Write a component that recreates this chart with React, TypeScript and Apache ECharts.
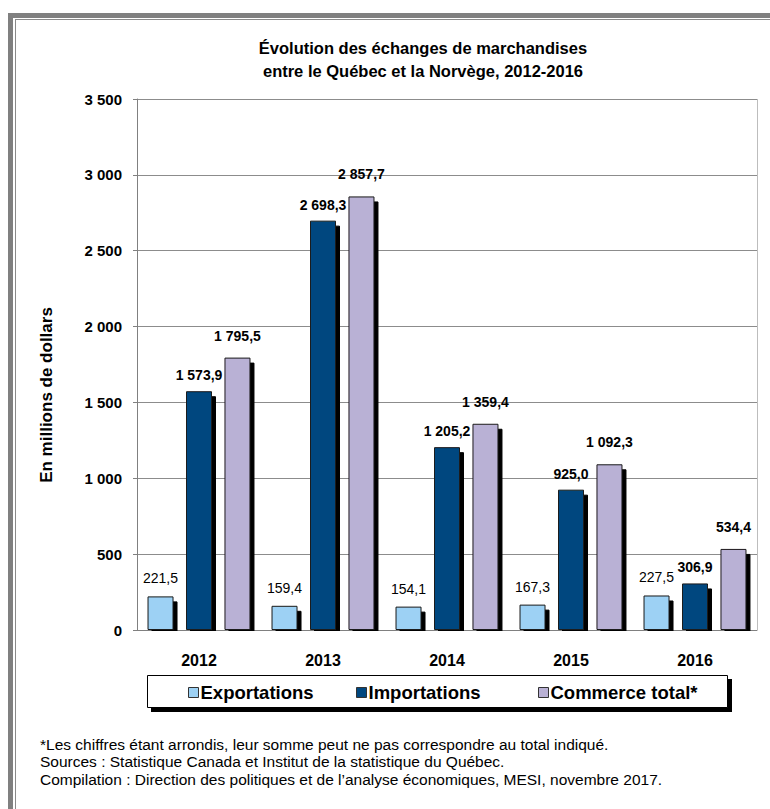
import React, { useEffect, useRef } from "react";
import * as echarts from "echarts";

const categories = ["2012", "2013", "2014", "2015", "2016"];
const exportations = [221.5, 159.4, 154.1, 167.3, 227.5];
const importations = [1573.9, 2698.3, 1205.2, 925.0, 306.9];
const commerceTotal = [1795.5, 2857.7, 1359.4, 1092.3, 534.4];
const seriesNames = ["Exportations", "Importations", "Commerce total*"];
const yMin = 0;
const yMax = 3500;
const yStep = 500;

const titleLines = [
  "Évolution des échanges de marchandises",
  "entre le Québec et la Norvège, 2012-2016",
];
const yAxisTitle = "En millions de dollars";
const notes = [
  "*Les chiffres étant arrondis, leur somme peut ne pas correspondre au total indiqué.",
  "Sources : Statistique Canada et Institut de la statistique du Québec.",
  "Compilation : Direction des politiques et de l’analyse économiques, MESI, novembre 2017.",
];

const FONT = "'Liberation Sans', Arial, Helvetica, sans-serif";

function fmt(v: number, dec: number): string {
  const s = v.toFixed(dec);
  const [ip, dp] = s.split(".");
  const withSpaces = ip.replace(/\B(?=(\d{3})+(?!\d))/g, " ");
  return dp !== undefined ? withSpaces + "," + dp : withSpaces;
}

const COLORS = ["#9DD1F4", "#00477F", "#B9B1D5"];

export default function App() {
  const ref = useRef<HTMLDivElement>(null);
  useEffect(() => {
    if (!ref.current) return;
    const chart = echarts.init(ref.current, undefined, { renderer: "svg" });
    const gridLeft = 137;
    const gridTop = 99;
    const gridRight = 13;
    const gridBottom = 179;
    const W = 770;
    const H = 809;
    const plotRight = W - gridRight;
    const plotBottom = H - gridBottom;

    const barSeries = (name: string, data: number[], idx: number, bold: boolean, dist: number) => ({
      name,
      type: "bar",
      data,
      barWidth: 26,
      barGap: "48%",
      itemStyle: {
        color: COLORS[idx],
        borderColor: "#1a1a1a",
        borderWidth: 1,
        shadowColor: "#000",
        shadowBlur: 0,
        shadowOffsetX: 4,
        shadowOffsetY: 5,
      },
      label: {
        show: true,
        position: "top",
        distance: dist,
        fontFamily: FONT,
        fontSize: 14,
        fontWeight: bold ? "bold" : "normal",
        color: "#000",
        formatter: (p: any) => fmt(p.value, 1),
      },
      emphasis: { disabled: true },
    });

    const legendCommon = {
      top: 683,
      padding: 0,
      itemWidth: 10,
      itemHeight: 10,
      icon: "rect",
      textStyle: { fontFamily: FONT, fontSize: 18.5, fontWeight: "bold", color: "#000", padding: [0, 0, 0, -3] },
      itemStyle: { borderColor: "#333", borderWidth: 1, shadowBlur: 0, shadowOffsetX: 0, shadowOffsetY: 0, shadowColor: "transparent" },
      selectedMode: false,
    };

    chart.setOption({
      animation: false,
      backgroundColor: "#fff",
      grid: { left: gridLeft, top: gridTop, right: gridRight, bottom: gridBottom, containLabel: false },
      xAxis: {
        type: "category",
        data: categories,
        axisLine: { show: true, lineStyle: { color: "#808080", width: 1 } },
        axisTick: { show: false },
        axisLabel: { fontFamily: FONT, fontSize: 16, fontWeight: "bold", color: "#000", margin: 22 },
      },
      yAxis: {
        type: "value",
        min: yMin,
        max: yMax,
        interval: yStep,
        axisLine: { show: true, lineStyle: { color: "#808080", width: 1 } },
        axisTick: { show: true, length: 4, lineStyle: { color: "#808080" } },
        splitLine: { show: true, lineStyle: { color: "#8c8c8c", width: 1 } },
        axisLabel: {
          fontFamily: FONT,
          fontSize: 15,
          fontWeight: "bold",
          color: "#000",
          margin: 15,
          formatter: (v: number) => fmt(v, 0),
        },
      },
      legend: [
        { ...legendCommon, left: 188, data: [seriesNames[0]] },
        { ...legendCommon, left: 356, data: [seriesNames[1]] },
        { ...legendCommon, left: 538, data: [seriesNames[2]] },
      ],
      series: [
        barSeries(seriesNames[0], exportations, 0, false, 11),
        barSeries(seriesNames[1], importations, 1, true, 9),
        barSeries(seriesNames[2], commerceTotal, 2, true, 15),
      ],
      graphic: [
        // outer frame
        { type: "rect", silent: true, z: -10, shape: { x: 8, y: 13, width: W, height: 5 }, style: { fill: "#808080" } },
        { type: "rect", silent: true, z: -10, shape: { x: 8, y: 13, width: 5, height: H }, style: { fill: "#808080" } },
        { type: "rect", silent: true, z: -10, shape: { x: 15, y: 19, width: W, height: 1 }, style: { fill: "#8a8a8a" } },
        { type: "rect", silent: true, z: -10, shape: { x: 15, y: 19, width: 1, height: H }, style: { fill: "#8a8a8a" } },
        // plot right border
        { type: "line", silent: true, z: 5, shape: { x1: plotRight + 0.5, y1: gridTop, x2: plotRight + 0.5, y2: plotBottom }, style: { stroke: "#bdbdbd", lineWidth: 1 } },
        // hide shadows below x axis
        { type: "rect", silent: true, z: 100, shape: { x: gridLeft, y: plotBottom + 1, width: plotRight - gridLeft + 8, height: 8 }, style: { fill: "#fff" } },
        // legend box
        { type: "rect", silent: true, z: 1, shape: { x: 151, y: 679, width: 581, height: 33 }, style: { fill: "#000" } },
        { type: "rect", silent: true, z: 2, shape: { x: 147.5, y: 675.5, width: 580, height: 32 }, style: { fill: "#fff", stroke: "#000", lineWidth: 1 } },
        // title
        { type: "text", silent: true, x: 423, y: 48, style: { text: titleLines[0], fontFamily: FONT, fontSize: 16.5, fontWeight: "bold", fill: "#000", textAlign: "center", textVerticalAlign: "middle" } },
        { type: "text", silent: true, x: 423, y: 71, style: { text: titleLines[1], fontFamily: FONT, fontSize: 16.5, fontWeight: "bold", fill: "#000", textAlign: "center", textVerticalAlign: "middle" } },
        // y axis title
        { type: "text", silent: true, x: 46, y: 395, rotation: Math.PI / 2, style: { text: yAxisTitle, fontFamily: FONT, fontSize: 17, fontWeight: "bold", fill: "#000", textAlign: "center", textVerticalAlign: "middle" } },
        // notes
        ...notes.map((t, i) => ({ type: "text", silent: true, x: 40, y: 744 + i * 17.5, style: { text: t, fontFamily: FONT, fontSize: 15.5, fill: "#000", textAlign: "left", textVerticalAlign: "middle" } })),
      ],
    });
    return () => chart.dispose();
  }, []);
  return <div ref={ref} style={{ position: "absolute", left: 0, top: 0, width: 770, height: 809 }} />;
}
